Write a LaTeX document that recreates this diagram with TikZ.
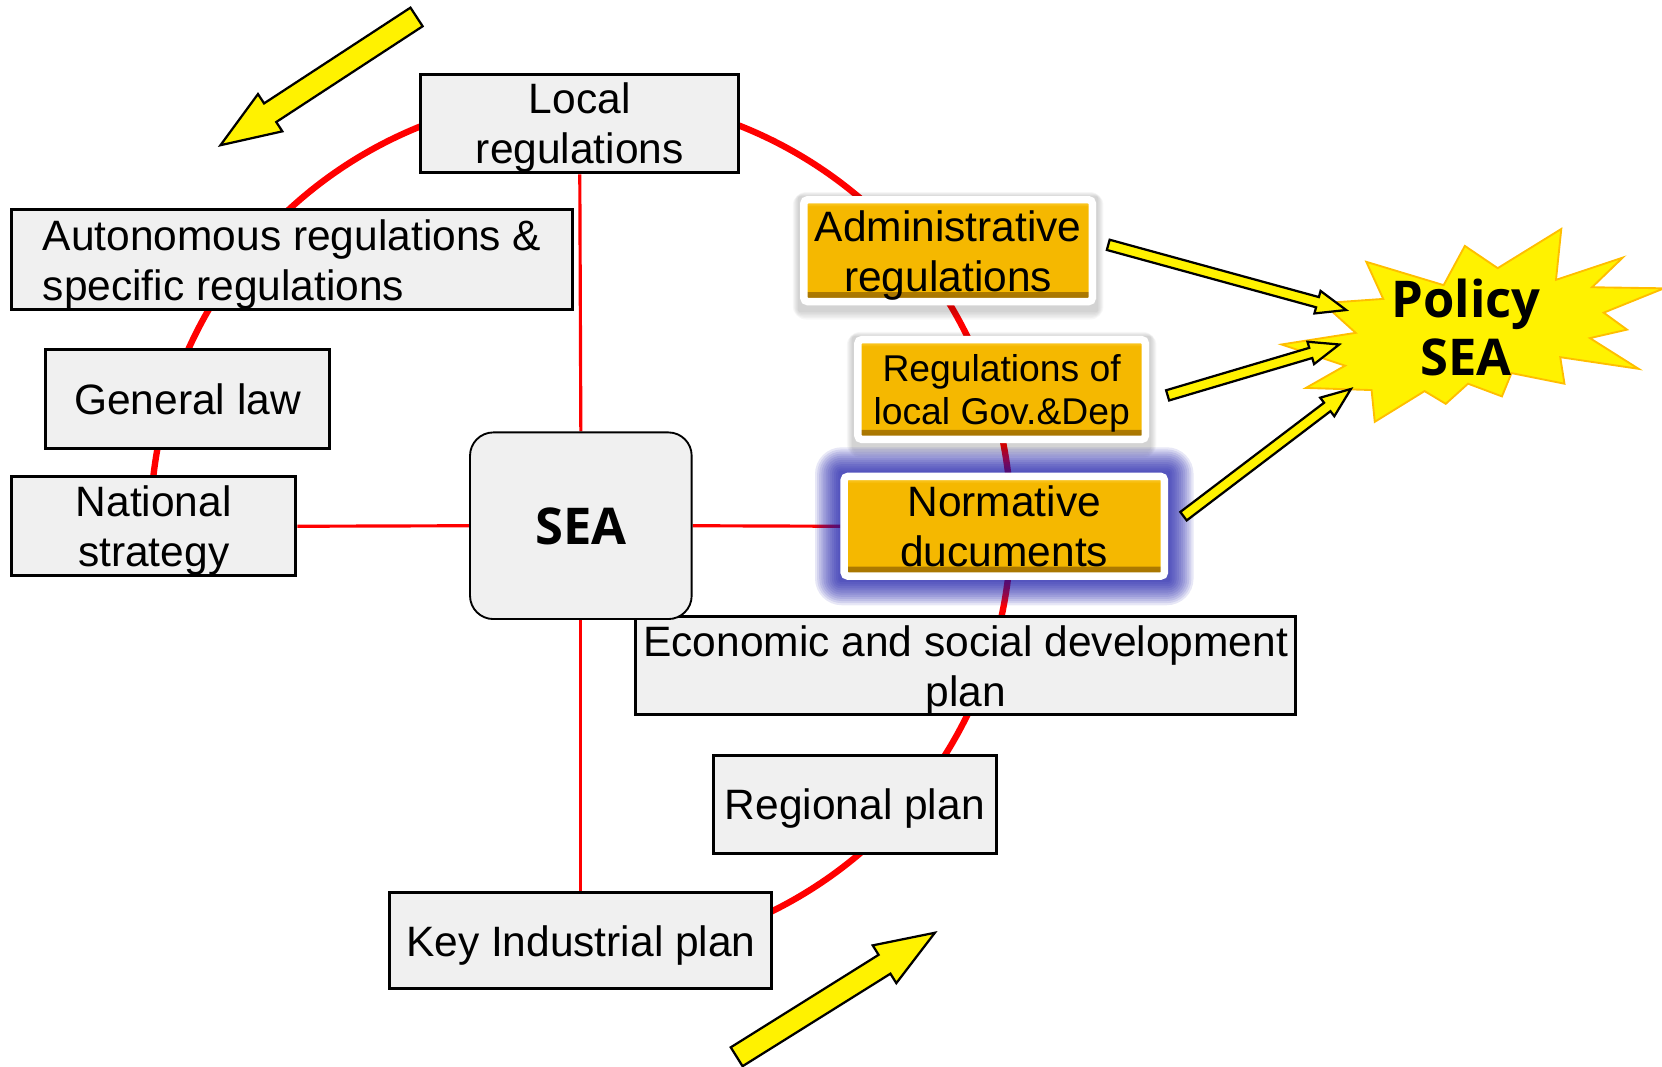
\documentclass[tikz,border=0pt]{standalone}
\usepackage{fontspec}
\setmainfont{Liberation Sans}
\newfontfamily\seafont{Open Sans}
\usetikzlibrary{calc,backgrounds}

\definecolor{boxgray}{RGB}{240,240,240}
\definecolor{boxorange}{RGB}{245,184,0}
\definecolor{orangedark}{RGB}{165,115,0}
\definecolor{orangelight}{RGB}{255,212,70}
\definecolor{glowblue}{RGB}{20,20,165}
\definecolor{burstline}{RGB}{255,190,0}

% block arrow: tail, tip, half shaft, half head, head length
\newcommand\fatarrow[6][]{%
  \coordinate (hb) at ($(#3)!#6!(#2)$);
  \draw[#1] ($(#2)!#4!90:(#3)$) -- ($(hb)!#4!90:(#3)$) -- ($(hb)!#5!90:(#3)$) -- (#3)
    -- ($(hb)!#5!-90:(#3)$) -- ($(hb)!#4!-90:(#3)$) -- ($(#2)!#4!-90:(#3)$) -- cycle;}

\begin{document}
\begin{tikzpicture}[x=0.01cm,y=-0.01cm,
   plan/.style={draw,line width=0.8pt,fill=boxgray,inner sep=0pt,align=center,text depth=0pt,
     font=\fontsize{11.4}{13.4}\selectfont},
   regle/.style={draw=white,line width=0.07cm,fill=boxorange,rounded corners=1pt,
     inner sep=0pt,align=center,text depth=0pt,font=\fontsize{11.4}{13.4}\selectfont,
     path picture={
       \shade[top color=boxorange,bottom color=orangedark]
         ([yshift=0.09cm]path picture bounding box.south west) rectangle (path picture bounding box.south east);
       \shade[top color=orangelight,bottom color=boxorange]
         (path picture bounding box.north west) rectangle ([yshift=-0.065cm]path picture bounding box.north east);}},
   ring/.style={red,line width=1.7pt},
   spoke/.style={red,line width=0.85pt},
   burst/.style={fill=yellow,draw=burstline,line width=0.5pt,line join=miter},
   fleche/.style={draw=black,line width=0.6pt,fill=yellow,line join=miter}]

  \useasboundingbox (0,0) rectangle (1568,1006);

  \node[plan] (local) at (547,116.5) [minimum width=3cm,minimum height=0.93cm] {Local\\regulations};
  \node[plan,align=left] (auto) at (275.5,245) [minimum width=5.29cm,minimum height=0.94cm]
    {Autonomous regulations \&\\specific regulations};
  \node[plan] (general) at (177,376.5) [minimum width=2.68cm,minimum height=0.93cm] {General law};
  \node[plan] (national) at (145,496.5) [minimum width=2.68cm,minimum height=0.93cm] {National\\strategy};
  \node[plan] (econ) at (911,628) [minimum width=6.22cm,minimum height=0.92cm]
    {Economic and social development\\plan};
  \node[plan] (regional) at (806.5,759) [minimum width=2.67cm,minimum height=0.92cm] {Regional plan};
  \node[plan] (keyind) at (548,887.5) [minimum width=3.6cm,minimum height=0.91cm] {Key Industrial plan};
  \node[plan,line width=0.5pt,rounded corners=0.22cm,font=\seafont\bfseries\fontsize{13.6}{15}\selectfont]
    (sea) at (548,496) [minimum width=2.09cm,minimum height=1.76cm] {SEA};

  \node[regle] (admin) at (894.5,236.5) [minimum width=2.72cm,minimum height=0.96cm]
    {Administrative\\regulations};
  \node[regle,font=\fontsize{10}{11.4}\selectfont] (regs) at (945,367.5)
    [minimum width=2.71cm,minimum height=0.94cm] {Regulations of\\local Gov.\&Dep};
  \node[regle] (norm) at (947.5,496.5) [minimum width=3.02cm,minimum height=0.94cm]
    {Normative\\ducuments};

  \node[align=center,inner sep=0pt,font=\seafont\bfseries\fontsize{13.6}{15.6}\selectfont]
    (policy) at (1383,309) {Policy\\SEA};

  \begin{scope}[on background layer]
    \draw[ring] (sea.center) ++(64:406) arc[start angle=64,end angle=-182,radius=406];
    \foreach \from/\to in {sea.north/local.south,sea.west/national.east,sea.east/norm.west,sea.south/keyind.north}
      \draw[spoke] (\from) -- (\to);
    % soft shadow under the two upper orange boxes
    \foreach \b in {admin,regs}
      \foreach \g in {1,...,6}
        \fill[black,opacity=0.03,rounded corners=\g*0.6pt]
          ($(\b.south west)+(-1-\g,5+1.4*\g)$) rectangle ($(\b.north east)+(1+\g,1-0.8*\g)$);
    % glow round the normative box
    \foreach \g in {1,...,12}
      \fill[glowblue,opacity=0.1,rounded corners=\g*0.6pt]
        ($(norm.south west)+(-2*\g,2*\g)$) rectangle ($(norm.north east)+(2*\g,-2*\g)$);
    \draw[burst] (1289,247) -- (1362,269) -- (1382,232) -- (1413,253) -- (1473,216) -- (1468,264)
      -- (1531,243) -- (1502,271) -- (1570,272) -- (1513,295) -- (1535,311) -- (1500,319)
      -- (1546,348) -- (1472,337) -- (1476,362) -- (1426,352) -- (1417,374) -- (1385,362)
      -- (1364,381) -- (1344,369) -- (1297,398) -- (1294,368) -- (1232,366) -- (1269,345)
      -- (1209,325) -- (1279,314) -- (1248,286) -- (1305,282) -- cycle;
  \end{scope}

  \coordinate (a1) at ($(admin.east)+(11.5,-5.5)$);
  \coordinate (a2) at ($(regs.east)+(17.5,5.5)$);
  \coordinate (a3) at ($(norm.east)+(14.5,-9.5)$);
  \coordinate (p1) at ($(policy)+(-113,-16.5)$);
  \coordinate (p2) at ($(policy)+(-119.5,16)$);
  \coordinate (p3) at ($(policy)+(-108.5,58)$);
  \fatarrow[fleche]{a1}{p1}{0.05cm}{0.11cm}{0.28cm}
  \fatarrow[fleche]{a2}{p2}{0.05cm}{0.11cm}{0.28cm}
  \fatarrow[fleche]{a3}{p3}{0.05cm}{0.11cm}{0.28cm}

  \coordinate (tltail) at (393,16);
  \coordinate (tltip) at (208,137);
  \coordinate (bttail) at (695,997);
  \coordinate (bttip) at (882,880);
  \fatarrow[fleche]{tltail}{tltip}{0.105cm}{0.21cm}{0.56cm}
  \fatarrow[fleche]{bttail}{bttip}{0.105cm}{0.21cm}{0.56cm}
\end{tikzpicture}
\end{document}
